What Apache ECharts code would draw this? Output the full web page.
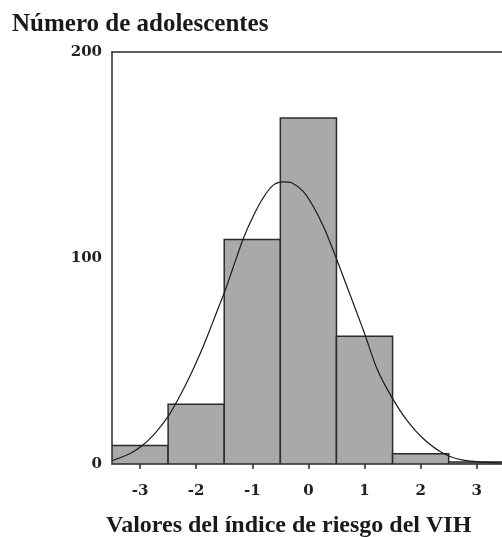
<!DOCTYPE html>
<html>
<head>
<meta charset="utf-8">
<script src="https://cdn.jsdelivr.net/npm/echarts@6/dist/echarts.min.js"></script>
<style>
  html, body { margin: 0; padding: 0; background: #fff; }
  #chart { width: 502px; height: 537px; }
</style>
</head>
<body>
<div id="chart"></div>
<script>
// histograma: centro de cada intervalo y número de adolescentes
var binCenters = [-3, -2, -1, 0, 1, 2, 3];
var binCounts = [9, 29, 109, 168, 62, 5, 1];

// curva normal superpuesta
var curveX = [-3.5, -3.17, -2.97, -2.73, -2.49, -2.34, -2.14, -1.93, -1.78, -1.63, -1.48, -1.34, -1.16,
  -0.98, -0.80, -0.62, -0.45, -0.30, -0.09, 0.09, 0.27, 0.44, 0.71, 0.89, 1.01, 1.22, 1.48, 1.75,
  2.04, 2.40, 2.76, 3.44];
var curveY = [1.6, 5.2, 8.7, 15, 23.5, 30.5, 41, 53.5, 63.5, 74, 84.5, 95.5, 109.5,
  120.5, 129.5, 135.5, 137, 136.5, 132.2, 124.9, 115.2, 103.9, 84.5, 71.5, 62.6, 46.4, 32.7, 21.4,
  12.5, 5.2, 1.9, 0.5];

var xTicks = [-3, -2, -1, 0, 1, 2, 3];
var yTicks = [0, 100, 200];

var chart = echarts.init(document.getElementById('chart'));

var labelFont = {
  fontFamily: 'DejaVu Serif',
  fontWeight: 'bold',
  fontSize: 15,
  color: '#222'
};

var option = {
  animation: false,
  title: [
    {
      text: 'Número de adolescentes',
      left: 12,
      top: 12,
      padding: 0,
      textStyle: { fontFamily: 'Liberation Serif', fontWeight: 'bold', fontSize: 25, color: '#1a1a1a' }
    },
    {
      text: 'Valores del índice de riesgo del VIH',
      left: 106,
      top: 514,
      padding: 0,
      textStyle: { fontFamily: 'Liberation Serif', fontWeight: 'bold', fontSize: 24, color: '#1a1a1a' }
    }
  ],
  grid: { left: 112, right: 0, top: 52, bottom: 73 },
  xAxis: [
    {
      type: 'value',
      min: -3.5,
      max: 3.45,
      splitLine: { show: false },
      axisLine: { show: true, onZero: false, lineStyle: { color: '#2a2a2a', width: 1.5 } },
      axisTick: { show: true, length: 5, customValues: xTicks, lineStyle: { color: '#2a2a2a', width: 1.5 } },
      axisLabel: Object.assign({ customValues: xTicks, margin: 20 }, labelFont)
    },
    {
      type: 'value',
      position: 'top',
      min: -3.5,
      max: 3.45,
      splitLine: { show: false },
      axisLine: { show: true, onZero: false, lineStyle: { color: '#2a2a2a', width: 1.5 } },
      axisTick: { show: false },
      axisLabel: { show: false }
    }
  ],
  yAxis: {
    type: 'value',
    min: 0,
    max: 200,
    interval: 100,
    splitLine: { show: false },
    axisLine: { show: true, onZero: false, lineStyle: { color: '#2a2a2a', width: 1.5 } },
    axisTick: { show: false },
    axisLabel: Object.assign({ customValues: yTicks, margin: 10 }, labelFont)
  },
  series: [
    {
      type: 'custom',
      clip: true,
      data: binCenters.map(function (c, i) { return [c, binCounts[i]]; }),
      renderItem: function (params, api) {
        var x = api.value(0);
        var y = api.value(1);
        var p0 = api.coord([x - 0.5, y]);
        var p1 = api.coord([x + 0.5, 0]);
        return {
          type: 'rect',
          shape: { x: p0[0], y: p0[1], width: p1[0] - p0[0], height: p1[1] - p0[1] },
          style: { fill: '#a9a9a9', stroke: '#2b2b2b', lineWidth: 1.5 }
        };
      },
      z: 2
    },
    {
      type: 'line',
      data: curveX.map(function (x, i) { return [x, curveY[i]]; }),
      smooth: 0.3,
      symbol: 'none',
      lineStyle: { color: '#1a1a1a', width: 1.2 },
      z: 3
    }
  ]
};

chart.setOption(option);
</script>
</body>
</html>
